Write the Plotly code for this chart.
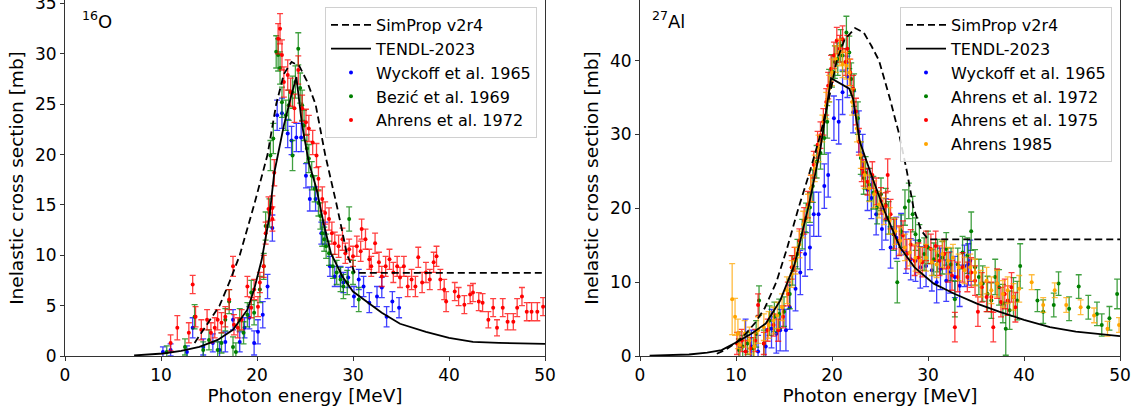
import plotly.graph_objects as go

# ---------------- 16O ----------------
SIMPROP_O_E = [13.5, 14.5, 16.1, 17.2, 18.2, 19.7, 21.1, 22.0, 22.8, 23.6, 24.4, 25.2, 26.1, 27.1, 28.3, 29.4, 30.2, 35.0, 40.0, 50.0]
SIMPROP_O_S = [1.3, 2.7, 5.0, 7.5, 10.0, 15.0, 20.0, 25.0, 28.0, 29.2, 28.8, 27.3, 25.0, 20.0, 15.0, 10.0, 8.25, 8.25, 8.25, 8.25]

TENDL_O_E = [7.2, 10.2, 12.1, 14.0, 15.9, 17.5, 19.0, 19.7, 20.5, 21.3, 21.8, 22.8, 23.5, 24.1, 24.7, 25.4, 26.2, 27.0, 27.7, 28.9, 30.0, 31.1, 33.0, 34.9, 37.6, 40.0, 42.5, 45.2, 50.0]
TENDL_O_S = [0.05, 0.25, 0.5, 0.9, 1.6, 2.6, 4.6, 6.6, 9.6, 13.9, 18.2, 22.9, 25.6, 27.7, 22.9, 19.2, 16.6, 12.9, 10.2, 7.9, 6.4, 5.6, 4.3, 3.2, 2.4, 1.8, 1.4, 1.3, 1.2]

# (energy MeV, cross section mb, error mb)
WYCKOFF_O = [(10.2, 0.4, 0.5), (11.0, 0.6, 0.6), (12.7, 0.4, 0.6), (13.3, 2.8, 1.0), (14.4, 0.9, 0.8),
             (15.4, 1.3, 0.9), (16.1, 0.6, 0.8), (16.7, 1.4, 1.0), (17.5, 3.6, 1.0), (18.2, 1.4, 1.0),
             (18.7, 2.8, 1.0), (19.2, 3.8, 1.1), (19.7, 1.3, 1.2), (20.1, 2.4, 1.2), (20.6, 4.1, 1.3),
             (21.1, 6.9, 1.2), (21.6, 12.7, 1.3), (22.1, 23.9, 1.5), (22.6, 24.1, 1.5), (23.2, 22.1, 1.4),
             (23.6, 21.4, 1.4), (24.1, 21.7, 1.4), (24.6, 21.7, 1.4), (25.1, 17.9, 1.2), (25.5, 15.6, 1.2),
             (26.1, 15.6, 1.2), (26.7, 12.2, 1.1), (27.1, 12.2, 1.1), (27.6, 8.9, 1.0), (28.1, 7.9, 1.0),
             (28.7, 7.9, 1.0), (29.0, 7.3, 1.0), (29.5, 7.8, 1.0), (30.1, 5.9, 1.0), (30.6, 7.6, 1.0),
             (31.1, 6.9, 1.0), (31.7, 5.3, 1.0), (32.5, 5.9, 1.0), (33.0, 6.8, 1.0), (33.5, 3.9, 1.0),
             (34.1, 5.4, 1.0), (34.8, 4.8, 1.0)]

BEZIC_O = [(10.6, 0.4, 0.6), (12.5, 0.9, 0.8), (13.5, 3.9, 1.2), (14.4, 0.6, 0.8), (15.0, 1.6, 1.0),
           (15.9, 0.6, 0.8), (16.3, 1.3, 1.0), (16.7, 3.6, 1.1), (17.1, 5.4, 1.2), (17.5, 0.9, 1.0),
           (17.8, 0.4, 0.9), (18.2, 3.6, 1.1), (18.6, 2.3, 1.1), (19.0, 4.1, 1.2), (19.4, 6.3, 1.2),
           (19.7, 4.3, 1.2), (20.3, 6.6, 1.3), (20.7, 8.9, 1.3), (20.9, 12.9, 1.4), (21.3, 14.2, 1.4),
           (21.4, 19.9, 1.5), (21.7, 21.6, 1.5), (22.0, 30.2, 1.6), (22.2, 29.9, 1.6), (22.4, 28.6, 1.6),
           (22.6, 25.2, 1.5), (23.0, 23.9, 1.5), (23.3, 24.9, 1.5), (23.7, 19.9, 1.5), (23.7, 26.2, 1.6),
           (24.0, 27.2, 1.6), (24.3, 30.5, 1.6), (24.5, 26.6, 1.5), (24.7, 24.9, 1.5), (24.9, 22.9, 1.5),
           (25.2, 20.6, 1.4), (25.4, 19.6, 1.4), (25.7, 17.9, 1.4), (26.0, 16.6, 1.3), (26.4, 15.2, 1.3),
           (26.6, 13.9, 1.3), (26.8, 12.2, 1.3), (27.0, 11.6, 1.2), (27.2, 10.9, 1.2), (27.5, 10.2, 1.2),
           (27.9, 8.9, 1.2), (28.3, 8.3, 1.2), (28.7, 7.6, 1.2), (29.0, 6.9, 1.2), (29.4, 7.3, 1.2),
           (29.6, 13.6, 1.2), (30.0, 8.3, 1.2), (30.6, 5.6, 1.2)]

AHRENS72_O = [(11.0, 1.3, 0.8), (11.7, 2.8, 1.2), (12.9, 2.3, 1.0), (13.3, 7.1, 0.9), (13.6, 3.9, 1.0),
              (14.2, 2.6, 1.0), (14.8, 3.6, 1.0), (15.2, 2.3, 1.0), (15.6, 2.8, 1.0), (15.9, 3.6, 1.0),
              (16.3, 3.3, 1.0), (16.7, 3.9, 1.0), (17.1, 5.6, 1.0), (17.5, 8.9, 1.0), (17.6, 3.1, 1.0),
              (18.0, 2.8, 1.0), (18.4, 3.6, 1.0), (19.0, 6.9, 1.0), (19.4, 4.8, 1.0), (19.7, 6.6, 1.0),
              (20.1, 4.9, 1.0), (20.3, 7.3, 1.0), (20.7, 8.9, 1.1), (20.9, 12.2, 1.1), (21.2, 14.6, 1.2),
              (21.6, 13.6, 1.2), (21.6, 14.7, 1.2), (21.8, 18.2, 1.3), (22.2, 31.5, 1.5), (22.4, 32.5, 1.5),
              (22.6, 29.9, 1.5), (22.8, 27.2, 1.5), (23.2, 27.9, 1.5), (23.5, 26.2, 1.4), (23.9, 24.6, 1.4),
              (24.3, 28.4, 1.4), (24.7, 24.6, 1.3), (25.1, 23.2, 1.3), (25.4, 22.6, 1.3), (25.8, 21.2, 1.2),
              (26.2, 19.9, 1.2), (26.4, 17.6, 1.2), (26.8, 15.6, 1.2), (27.1, 14.2, 1.1), (27.5, 13.6, 1.1),
              (27.8, 12.2, 1.1), (28.1, 11.2, 1.1), (28.5, 10.9, 1.1), (28.9, 11.6, 1.1), (29.2, 10.2, 1.0),
              (29.6, 10.6, 1.0), (30.0, 9.9, 1.0), (30.4, 10.9, 1.0), (30.8, 10.4, 1.0), (30.9, 12.6, 1.0),
              (31.3, 11.6, 1.0), (31.7, 9.6, 1.0), (31.9, 8.9, 1.0), (32.3, 11.2, 1.0), (32.7, 9.3, 1.0),
              (33.0, 7.9, 1.0), (33.4, 8.9, 1.0), (33.8, 9.6, 1.0), (34.2, 8.3, 1.0), (34.6, 8.9, 1.0),
              (34.9, 7.8, 1.0), (35.3, 8.9, 1.0), (35.7, 6.9, 1.0), (36.1, 7.6, 1.0), (36.5, 6.9, 1.0),
              (36.8, 9.8, 1.0), (37.2, 7.3, 1.0), (37.6, 8.3, 1.0), (38.0, 7.6, 1.0), (38.4, 9.3, 1.0),
              (38.7, 9.9, 1.0), (39.1, 7.6, 1.0), (39.5, 6.6, 1.0), (39.7, 5.4, 1.0), (40.6, 6.4, 0.9),
              (41.0, 5.9, 0.9), (41.6, 5.1, 0.9), (42.2, 6.1, 0.9), (42.5, 6.3, 0.9), (43.1, 5.4, 0.9),
              (43.5, 5.3, 0.9), (44.1, 3.6, 0.8), (44.6, 4.8, 0.9), (45.0, 2.8, 0.8), (45.6, 4.8, 0.9),
              (46.1, 3.4, 0.8), (46.7, 3.4, 0.8), (47.1, 4.8, 0.9), (47.6, 5.9, 0.9), (48.1, 4.4, 0.9),
              (48.6, 4.4, 0.9), (49.2, 4.4, 0.9), (49.8, 4.9, 0.9)]

# ---------------- 27Al ----------------
SIMPROP_AL_E = [8.0, 9.0, 10.0, 11.0, 12.0, 13.0, 14.2, 15.3, 16.5, 17.7, 18.8, 19.7, 20.5, 21.3, 22.4, 23.3, 24.1, 24.9, 26.0, 27.0, 27.8, 28.5, 29.3, 30.0, 40.0, 50.0]
SIMPROP_AL_S = [0.3, 0.9, 1.8, 3.0, 4.5, 6.5, 10.0, 14.5, 20.0, 25.0, 30.0, 35.0, 40.0, 42.8, 44.4, 43.8, 42.0, 40.0, 35.0, 30.0, 25.0, 20.0, 17.0, 15.8, 15.8, 15.8]

TENDL_AL_E = [1.0, 5.1, 7.0, 8.5, 10.1, 11.6, 13.1, 14.6, 16.1, 17.6, 18.8, 19.9, 21.8, 22.2, 22.9, 24.1, 25.6, 27.1, 28.6, 30.6, 32.8, 35.1, 37.4, 40.0, 42.7, 45.4, 50.0]
TENDL_AL_S = [0.05, 0.2, 0.45, 0.8, 1.9, 3.0, 4.4, 7.5, 12.4, 20.5, 28.1, 37.6, 36.2, 34.8, 29.0, 24.5, 19.2, 14.7, 12.0, 9.8, 8.4, 7.1, 6.0, 4.9, 3.9, 3.3, 2.7]

WYCKOFF_AL = [(10.4, 1.3, 2.0), (11.0, 2.8, 2.2), (11.6, 1.3, 2.2), (12.3, 0.6, 2.2), (13.1, 1.3, 2.4),
              (13.7, 3.7, 2.6), (14.2, 3.0, 2.6), (14.6, 3.5, 2.8), (15.2, 3.5, 2.8), (15.6, 6.6, 3.0),
              (16.2, 9.1, 3.0), (16.7, 11.3, 3.0), (17.2, 13.8, 3.0), (17.7, 14.7, 3.0), (18.1, 19.2, 3.0),
              (18.6, 19.2, 3.0), (19.2, 23.0, 3.0), (19.6, 24.5, 3.0), (20.2, 32.2, 3.0), (20.7, 31.7, 3.0),
              (21.1, 35.7, 3.0), (21.6, 37.8, 2.8), (22.2, 33.0, 2.8), (22.8, 30.4, 2.8), (23.2, 27.2, 2.8),
              (23.7, 22.5, 2.8), (24.1, 21.4, 2.8), (24.6, 19.2, 2.8), (25.2, 17.2, 2.8), (25.6, 18.5, 2.8),
              (26.1, 14.7, 2.8), (26.7, 16.0, 2.8), (27.2, 16.5, 2.8), (27.7, 14.0, 2.8), (28.2, 13.1, 2.8),
              (28.7, 12.9, 2.8), (29.2, 12.0, 2.8), (29.8, 12.2, 2.8), (30.4, 11.6, 2.8), (30.9, 10.0, 2.8),
              (31.3, 11.8, 2.8), (31.9, 10.2, 2.8), (32.3, 11.3, 2.8), (32.8, 10.7, 2.8), (33.3, 9.5, 2.8),
              (33.8, 12.2, 2.8), (34.2, 12.4, 2.8), (34.4, 12.9, 2.8)]

AHRENS72_AL = [(10.3, 0.8, 1.5), (10.7, 1.3, 1.5), (11.2, 1.7, 1.5), (11.8, 1.0, 1.5), (12.1, 3.0, 1.8),
               (12.4, 7.5, 2.0), (12.9, 1.7, 1.8), (13.5, 4.8, 2.0), (14.0, 5.3, 2.0), (14.5, 5.7, 2.0),
               (15.0, 6.0, 2.0), (15.6, 8.4, 2.0), (15.9, 11.6, 2.0), (16.4, 13.8, 2.0), (16.9, 16.5, 2.0),
               (17.3, 18.7, 2.0), (17.7, 20.1, 2.0), (18.0, 23.0, 2.2), (18.4, 26.3, 2.2), (18.8, 27.5, 2.2),
               (19.2, 29.5, 2.2), (19.5, 31.7, 2.2), (19.7, 36.6, 2.2), (20.0, 38.6, 2.2), (20.3, 39.8, 2.2),
               (20.6, 40.2, 2.2), (20.9, 42.0, 2.2), (21.1, 40.7, 2.2), (21.5, 43.8, 2.2), (21.8, 41.1, 2.2),
               (22.0, 37.5, 2.2), (22.3, 36.0, 2.2), (22.7, 32.2, 2.2), (23.0, 26.8, 2.2), (23.3, 24.1, 2.2),
               (23.5, 24.8, 2.2), (23.9, 23.2, 2.2), (24.3, 22.1, 2.2), (24.7, 20.1, 2.2), (25.1, 21.9, 2.2),
               (25.6, 20.5, 2.2), (25.9, 18.7, 2.2), (26.4, 16.5, 2.2), (26.8, 10.0, 2.8), (27.2, 16.9, 2.2),
               (27.6, 20.1, 2.4), (28.0, 21.0, 2.4), (28.4, 19.2, 2.4), (28.7, 16.5, 2.2), (29.1, 15.6, 2.2),
               (29.6, 13.8, 2.2), (30.0, 14.7, 2.2), (30.6, 13.1, 2.2), (31.0, 13.6, 2.2), (31.5, 13.3, 2.2),
               (31.9, 14.5, 2.2), (32.4, 12.4, 2.2), (32.8, 7.7, 2.4), (33.1, 12.4, 2.2), (33.6, 14.0, 2.2),
               (34.1, 13.6, 2.4), (34.5, 16.9, 2.6), (34.9, 12.0, 2.4), (35.3, 10.7, 2.4), (35.7, 9.8, 2.4),
               (36.2, 8.4, 2.4), (36.6, 7.5, 2.4), (37.0, 10.7, 2.4), (37.4, 9.3, 2.4), (37.8, 7.1, 2.6),
               (38.1, 3.7, 3.6), (38.5, 6.2, 2.6), (38.9, 8.0, 2.6), (39.3, 7.5, 2.6), (39.6, 12.2, 3.0),
               (41.4, 7.5, 1.5), (42.0, 6.0, 1.6), (43.1, 6.9, 1.6), (43.6, 9.8, 1.6), (44.7, 6.4, 1.6),
               (45.7, 9.4, 1.6), (46.7, 6.6, 1.6), (47.6, 5.7, 1.6), (48.1, 4.2, 1.5), (48.9, 5.1, 1.6),
               (49.7, 8.4, 2.0)]

AHRENS75_AL = [(10.1, 1.7, 1.5), (10.6, 2.1, 1.5), (11.0, 0.6, 1.5), (11.5, 1.0, 1.5), (12.0, 2.1, 1.5),
               (12.3, 6.9, 1.5), (12.9, 1.7, 1.5), (13.3, 3.5, 1.5), (13.9, 4.2, 1.5), (14.4, 3.5, 1.5),
               (14.9, 5.3, 1.5), (15.4, 8.4, 1.6), (15.8, 12.0, 1.6), (16.1, 13.1, 1.6), (16.6, 15.6, 1.6),
               (17.1, 18.3, 1.8), (17.5, 20.5, 1.8), (17.8, 22.7, 1.8), (18.1, 25.9, 1.8), (18.5, 28.6, 1.8),
               (18.8, 29.9, 1.8), (19.1, 31.7, 1.8), (19.4, 34.4, 1.8), (19.6, 36.6, 1.8), (19.9, 38.9, 1.8),
               (20.2, 40.7, 1.8), (20.5, 42.7, 1.8), (20.8, 41.6, 1.8), (21.1, 42.9, 1.8), (21.4, 39.8, 1.8),
               (21.6, 41.6, 1.8), (21.9, 38.4, 1.8), (22.2, 36.2, 1.8), (22.5, 33.1, 1.8), (22.8, 29.0, 1.8),
               (23.1, 25.4, 1.8), (23.3, 24.8, 1.8), (23.7, 23.6, 1.8), (24.2, 24.5, 1.8), (24.6, 22.3, 1.8),
               (25.1, 21.0, 1.8), (25.6, 20.3, 1.8), (25.8, 24.5, 2.2), (26.1, 19.2, 2.0), (26.5, 16.5, 2.0),
               (27.0, 15.6, 2.0), (27.4, 16.3, 2.0), (27.8, 13.8, 2.0), (28.2, 15.1, 2.0), (28.6, 12.9, 2.0),
               (29.0, 13.3, 2.0), (29.4, 12.7, 2.0), (29.8, 14.9, 2.0), (30.3, 14.5, 2.0), (30.8, 14.9, 2.0),
               (31.2, 12.9, 2.0), (31.7, 13.8, 2.0), (32.1, 12.0, 2.0), (32.5, 10.9, 2.0), (32.8, 3.9, 2.0),
               (33.1, 10.7, 2.0), (33.6, 12.0, 2.0), (34.1, 10.7, 2.0), (34.5, 11.3, 2.0), (34.9, 10.2, 2.0),
               (35.2, 6.0, 2.0), (35.6, 9.3, 2.0), (36.1, 8.0, 2.0), (36.6, 8.0, 2.0), (36.8, 3.9, 2.0),
               (37.2, 9.8, 2.0), (37.6, 7.3, 2.0), (38.0, 8.4, 2.0), (38.3, 7.5, 2.0), (38.7, 9.3, 2.0),
               (39.1, 6.6, 2.0)]

AHRENS85_AL = [(9.6, 7.7, 4.8), (9.9, 5.3, 2.5), (10.2, 3.0, 2.0), (10.4, 1.5, 1.8), (10.9, 3.0, 1.8),
               (11.4, 2.1, 1.8), (11.9, 1.3, 1.8), (12.3, 3.5, 1.8), (12.9, 3.9, 1.8), (13.4, 4.2, 1.8),
               (13.9, 4.8, 1.8), (14.3, 5.5, 1.8), (14.8, 6.6, 1.8), (15.3, 8.9, 1.8), (15.8, 11.1, 1.8),
               (16.2, 12.9, 1.8), (16.6, 15.1, 1.8), (17.0, 17.8, 1.8), (17.5, 20.1, 1.8), (17.8, 22.7, 1.8),
               (18.2, 25.4, 1.8), (18.6, 28.1, 1.8), (19.0, 30.8, 1.8), (19.4, 33.9, 1.8), (19.7, 36.2, 1.8),
               (20.0, 38.4, 1.8), (20.4, 40.2, 1.8), (20.8, 41.1, 1.8), (21.1, 39.5, 1.8), (21.5, 39.3, 1.8),
               (21.8, 38.4, 1.8), (22.1, 34.4, 1.8), (22.6, 30.8, 1.8), (23.0, 27.2, 1.8), (23.4, 24.5, 1.8),
               (23.9, 22.7, 1.8), (24.4, 21.9, 1.8), (24.9, 20.5, 1.8), (25.4, 19.6, 1.8), (26.0, 18.3, 1.8),
               (26.6, 16.9, 1.8), (27.1, 15.6, 1.8), (27.6, 14.7, 1.8), (28.1, 14.0, 1.8), (28.7, 13.3, 1.8),
               (29.2, 12.9, 1.8), (29.8, 13.3, 1.8), (30.4, 12.7, 1.8), (30.9, 12.4, 1.8), (31.5, 13.8, 1.8),
               (32.1, 12.9, 1.8), (32.6, 13.3, 1.8), (33.2, 12.0, 1.8), (33.8, 11.6, 1.8), (34.4, 12.0, 1.8),
               (34.9, 11.3, 1.8), (35.5, 9.8, 1.8), (36.1, 10.2, 1.8), (36.6, 8.9, 1.8), (37.2, 9.8, 1.8),
               (37.8, 8.4, 1.8), (38.3, 8.9, 1.8), (38.9, 8.0, 1.8), (39.5, 9.1, 1.8), (40.8, 10.0, 1.0),
               (42.0, 6.9, 1.0), (43.2, 8.9, 1.0), (44.4, 6.9, 1.0), (45.9, 6.6, 1.0), (47.3, 5.5, 1.0),
               (48.7, 3.7, 1.0), (49.9, 4.2, 1.0)]

FONT = "DejaVu Sans"
fig = go.Figure()


def add_data(points, name, color, xa, ya, legend, rank):
    e = [p[0] for p in points]
    s = [p[1] for p in points]
    err = [p[2] for p in points]
    r, g, b = color
    fig.add_trace(go.Scatter(
        x=e, y=s, mode="markers", name=name, xaxis=xa, yaxis=ya, legend=legend, legendrank=rank,
        marker=dict(size=4, color=f"rgb({r},{g},{b})"),
        error_y=dict(type="data", array=err, visible=True, thickness=1.3, width=3,
                     color=f"rgba({r},{g},{b},0.75)"),
    ))


def add_line(e, s, name, dash, xa, ya, legend, rank):
    fig.add_trace(go.Scatter(
        x=e, y=s, mode="lines", name=name, xaxis=xa, yaxis=ya, legend=legend, legendrank=rank,
        line=dict(color="black", width=1.8, dash=dash),
    ))


BLUE, GREEN, RED, ORANGE = (0, 0, 255), (0, 128, 0), (255, 0, 0), (255, 165, 0)

add_data(WYCKOFF_O, "Wyckoff et al. 1965", BLUE, "x", "y", "legend", 3)
add_data(BEZIC_O, "Bezić et al. 1969", GREEN, "x", "y", "legend", 4)
add_data(AHRENS72_O, "Ahrens et al. 1972", RED, "x", "y", "legend", 5)
add_line(SIMPROP_O_E, SIMPROP_O_S, "SimProp v2r4", "7px,4px", "x", "y", "legend", 1)
add_line(TENDL_O_E, TENDL_O_S, "TENDL-2023", "solid", "x", "y", "legend", 2)

add_data(WYCKOFF_AL, "Wyckoff et al. 1965", BLUE, "x2", "y2", "legend2", 3)
add_data(AHRENS72_AL, "Ahrens et al. 1972", GREEN, "x2", "y2", "legend2", 4)
add_data(AHRENS75_AL, "Ahrens et al. 1975", RED, "x2", "y2", "legend2", 5)
add_data(AHRENS85_AL, "Ahrens 1985", ORANGE, "x2", "y2", "legend2", 6)
add_line(SIMPROP_AL_E, SIMPROP_AL_S, "SimProp v2r4", "7px,4px", "x2", "y2", "legend2", 1)
add_line(TENDL_AL_E, TENDL_AL_S, "TENDL-2023", "solid", "x2", "y2", "legend2", 2)

W, H = 1140, 417
ML, MR, MT, MB = 65, 20, 0, 61
PW = W - ML - MR
PH = H - MT - MB


def px_x(p):
    return (p - ML) / PW


def px_y(p):
    return (H - MB - p) / PH


axis_common = dict(showline=True, linecolor="#333", linewidth=1, ticks="outside", ticklen=4,
                   tickwidth=1, tickcolor="#333", showgrid=False, zeroline=False, automargin=False,
                   ticklabeloverflow="allow",
                   tickfont=dict(family=FONT, size=17, color="black"))

legend_common = dict(font=dict(family=FONT, size=16, color="black"), bgcolor="rgba(255,255,255,0.85)",
                     bordercolor="#d0d0d0", borderwidth=1, xanchor="left", yanchor="top",
                     tracegroupgap=0, itemwidth=40)

TITLE_FONT = dict(family=FONT, size=18.5, color="black")

fig.update_layout(
    width=W, height=H, margin=dict(l=ML, r=MR, t=MT, b=MB, autoexpand=False),
    paper_bgcolor="white", plot_bgcolor="white",
    font=dict(family=FONT, size=16, color="black"),
    xaxis=dict(domain=[0, px_x(545)], range=[0, 50], dtick=10, anchor="y",
               title=dict(text="Photon energy [MeV]", font=TITLE_FONT, standoff=3),
               **axis_common),
    yaxis=dict(domain=[0, 1], range=[0, 35.35], dtick=5, anchor="x", mirror=True,
               title=dict(text="Inelastic cross section [mb]", font=TITLE_FONT, standoff=6),
               **axis_common),
    xaxis2=dict(domain=[px_x(640), 1], range=[0, 50], dtick=10, anchor="y2",
                title=dict(text="Photon energy [MeV]", font=TITLE_FONT, standoff=3),
                **axis_common),
    yaxis2=dict(domain=[0, 1], range=[0, 48.2], dtick=10, anchor="x2", mirror=True,
                title=dict(text="Inelastic cross section [mb]", font=TITLE_FONT, standoff=6),
                **axis_common),
    legend=dict(x=px_x(325), y=px_y(7), **legend_common),
    legend2=dict(x=px_x(900), y=px_y(7), **legend_common),
    annotations=[
        dict(text="<sup>16</sup>O", x=px_x(80), y=px_y(20), xref="paper", yref="paper",
             xanchor="left", yanchor="middle", showarrow=False, font=dict(family=FONT, size=18)),
        dict(text="<sup>27</sup>Al", x=px_x(650), y=px_y(20), xref="paper", yref="paper",
             xanchor="left", yanchor="middle", showarrow=False, font=dict(family=FONT, size=18)),
    ],
)

fig.write_html("out.html", config={"displayModeBar": False},
               post_script="document.body.style.margin='0px';")
